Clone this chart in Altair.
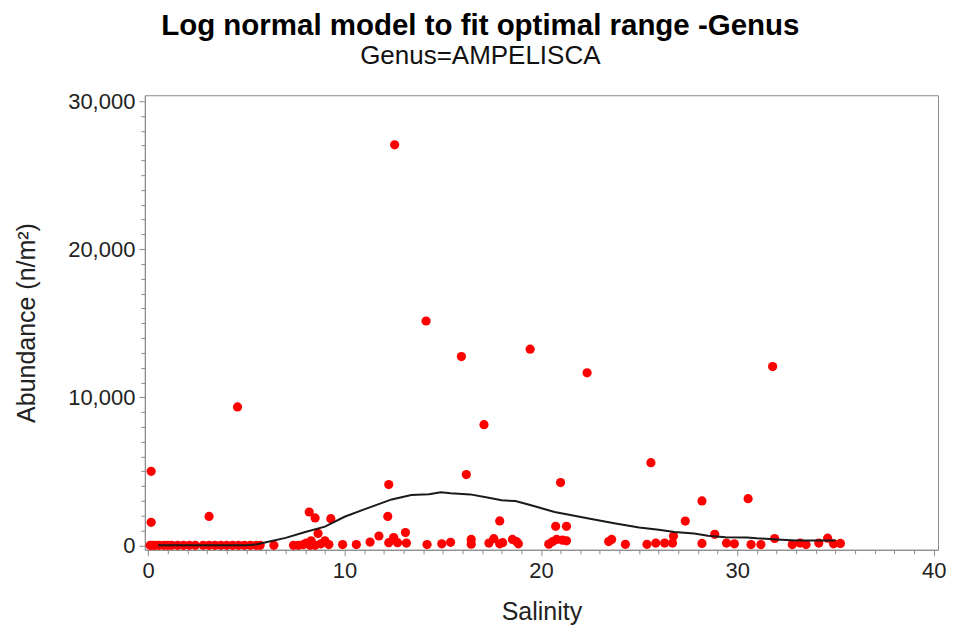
import altair as alt
import pandas as pd

# Observed points (salinity, abundance n/m^2)
salinity = [
    0.1, 0.2, 0.35, 0.55, 0.8, 1.0, 1.2, 1.5, 1.8, 2.1, 2.4, 2.8, 3.1, 3.4, 3.7, 4.0, 4.3, 4.6, 4.9, 5.2, 5.5, 5.7, 6.4,
    0.15, 0.15, 3.1, 4.55,
    7.4, 7.65, 7.9, 8.05, 8.25, 8.3, 8.5, 8.65, 8.8, 9.0, 9.2, 8.2, 8.5, 9.3, 9.9,
    10.6, 11.3, 11.75, 12.25, 12.2, 12.25, 12.5, 12.55, 12.7, 13.1, 13.15, 14.15, 14.2,
    14.95, 15.4, 15.95, 16.2, 16.45, 16.45, 17.1, 17.35, 17.6, 17.9, 17.9, 18.05, 18.55, 18.75, 18.85,
    19.45, 20.4, 20.6, 20.75, 20.8, 21.0, 21.1, 21.3, 21.3, 22.35, 23.45, 23.6, 24.3,
    25.4, 25.6, 25.85, 26.3, 26.7, 26.75, 27.35, 28.2, 28.2, 28.85, 29.45, 29.85, 30.55, 30.7, 31.2, 31.8,
    31.9, 32.8, 33.2, 33.5, 34.15, 34.6, 34.9, 35.25,
]
abundance = [
    0, 0, 0, 0, 0, 0, 0, 0, 0, 0, 0, 0, 0, 0, 0, 0, 0, 0, 0, 0, 0, 0, 0,
    5000, 1550, 1950, 9350,
    0, 0, 50, 150, 0, 300, 0, 800, 100, 300, 50, 2250, 1850, 1800, 50,
    50, 220, 630, 4100, 1950, 180, 520, 27050, 180, 860, 150, 15150, 50,
    100, 200, 12750, 4780, 400, 80, 8150, 150, 450, 1650, 100, 180, 400, 250, 100,
    13250, 80, 250, 1280, 400, 4240, 350, 1280, 300, 11650, 250, 400, 70,
    70, 5580, 150, 150, 150, 630, 1640, 3000, 130, 740, 150, 100, 3150, 50, 50, 12070,
    460, 50, 150, 50, 150, 480, 100, 130,
]

# Fitted log-normal curve
fit_salinity = [0.5, 1, 2, 3, 4, 5, 5.5, 6.0, 7.0, 8.0, 9.0, 10.0, 11.0, 12.4, 13.4, 14.3, 14.9, 15.4, 16.4,
                17.2, 18.0, 18.7, 19.5, 20.7, 21.5, 22.5, 23.8, 25.0, 26.0, 26.8, 27.8, 28.5, 29.4, 30.5,
                31.0, 32.0, 33.0, 34.0, 35.0]
fit_value = [0, 0, 0, 0, 0, 10, 60, 200, 500, 900, 1260, 1930, 2430, 3100, 3400, 3450, 3580, 3520, 3440,
             3250, 3040, 2990, 2700, 2250, 2050, 1800, 1480, 1200, 1050, 900, 800, 650, 550, 530,
             470, 400, 330, 320, 330]

x_ticks = list(range(0, 41))
y_ticks = list(range(0, 30001, 1000))

pts = pd.DataFrame({"Salinity": salinity, "Abundance": abundance})
fit = pd.DataFrame({"Salinity": fit_salinity, "Abundance": fit_value})

FONT = "Liberation Sans"

x_enc = alt.X(
    "Salinity:Q",
    scale=alt.Scale(domain=[-0.17, 40.22], nice=False, zero=False),
    axis=alt.Axis(
        title="Salinity",
        values=x_ticks,
        tickCount=200,
        labelExpr="datum.value % 10 == 0 ? format(datum.value, 'd') : ''",
        labelOverlap=False,
        tickSize={"condition": {"test": "datum.value % 10 == 0", "value": 6}, "value": 4},
        labelFontSize=22,
        titleFontSize=25,
        titlePadding=18,
        labelPadding=5,
    ),
)
y_enc = alt.Y(
    "Abundance:Q",
    scale=alt.Scale(domain=[-300, 30400], nice=False, zero=False),
    axis=alt.Axis(
        title="Abundance (n/m²)",
        values=y_ticks,
        tickCount=200,
        labelExpr="datum.value % 10000 == 0 ? format(datum.value, ',') : ''",
        labelOverlap=False,
        tickSize={"condition": {"test": "datum.value % 10000 == 0", "value": 6}, "value": 4},
        labelFontSize=22,
        titleFontSize=25,
        titlePadding=28,
        labelPadding=4,
    ),
)

points = alt.Chart(pts).mark_circle(size=85, color="#ff0000", opacity=1).encode(x=x_enc, y=y_enc)
curve = alt.Chart(fit).mark_line(color="#1a1a1a", strokeWidth=2).encode(x="Salinity:Q", y="Abundance:Q")

chart = (
    alt.layer(points, curve)
    .properties(
        width=794,
        height=455,
        padding={"left": 6, "top": 2, "right": 0, "bottom": 0},
        title=alt.TitleParams(
            text="Log normal model to fit optimal range -Genus",
            subtitle="Genus=AMPELISCA",
            fontSize=29.5,
            fontWeight="bold",
            font=FONT,
            subtitleFont=FONT,
            subtitleFontSize=26,
            subtitleColor="#111",
            color="#000",
            anchor="middle",
            frame="bounds",
            subtitlePadding=2,
            offset=20,
        ),
    )
    .configure_view(stroke="#8c8c8c", strokeWidth=1)
    .configure_axis(
        grid=False,
        domainColor="#8c8c8c",
        tickColor="#8c8c8c",
        labelFont=FONT,
        titleFont=FONT,
        labelColor="#222",
        titleColor="#222",
        titleFontWeight="normal",
    )
)

chart.save("out.html", embed_options={"renderer": "svg", "actions": False})
